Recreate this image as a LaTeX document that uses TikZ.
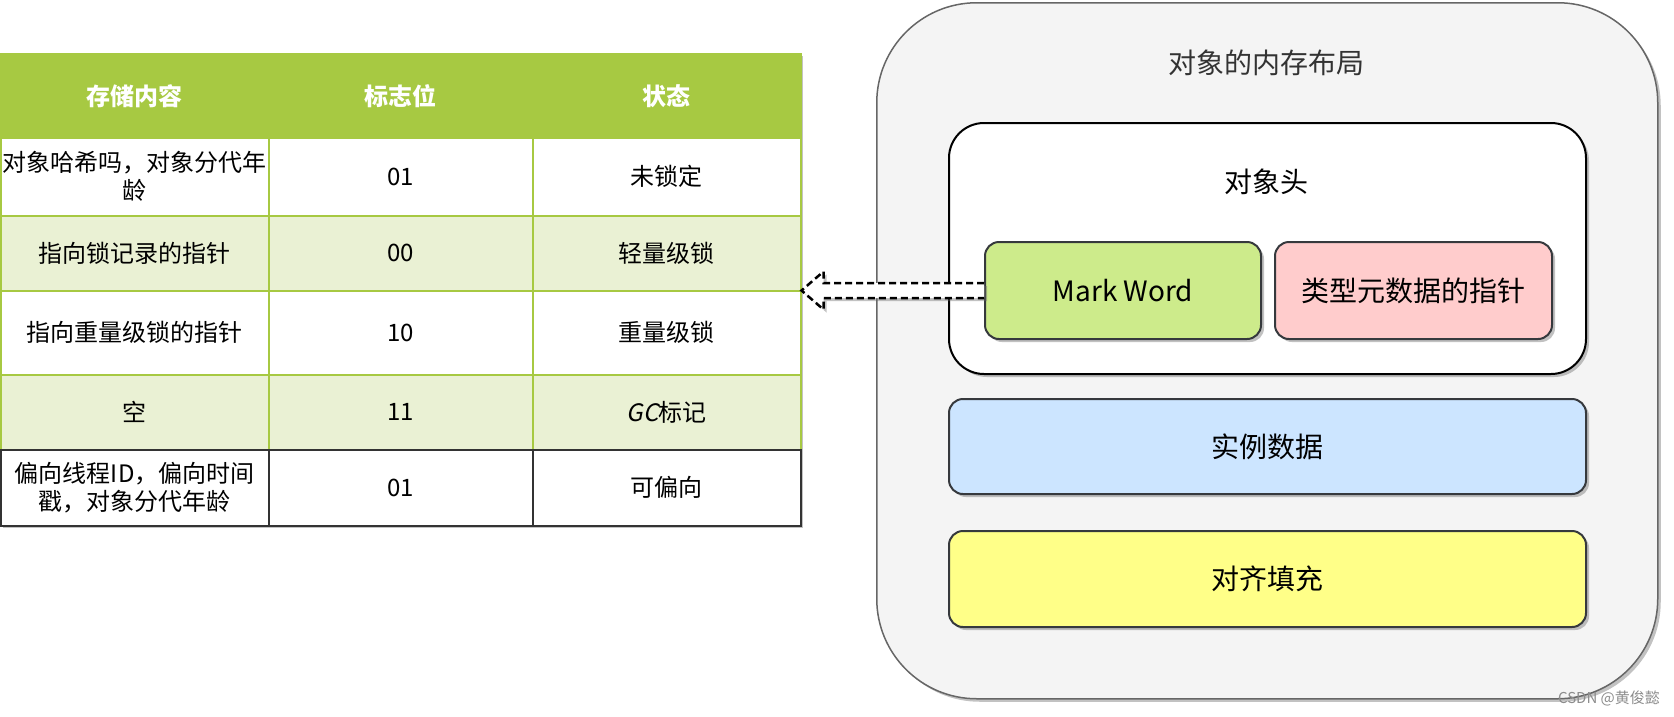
\documentclass[tikz,border=0pt]{standalone}
\usepackage{fontspec}
\setmainfont{Noto Sans CJK SC}
\newfontfamily\slfont[FakeSlant=0.2]{Noto Sans CJK SC}
\usepackage{xcolor}
\usepackage{tikz}
\usetikzlibrary{positioning,calc,shadows}

\definecolor{thead}{HTML}{A7C942}
\definecolor{tline}{HTML}{A7C942}
\definecolor{talt}{HTML}{EAF1D4}
\definecolor{tdark}{HTML}{333333}
\definecolor{outerfill}{HTML}{F4F4F4}
\definecolor{outerline}{HTML}{666666}
\definecolor{boxline}{HTML}{36393D}
\definecolor{mwfill}{HTML}{CDEB8B}
\definecolor{ptrfill}{HTML}{FFCCCC}
\definecolor{instfill}{HTML}{CCE5FF}
\definecolor{padfill}{HTML}{FFFF88}

\tikzset{
  cell/.style={draw=tline,line width=1.5pt,inner sep=0pt,anchor=north west,align=center,
    font=\fontsize{24}{28}\selectfont},
  head/.style={cell,fill=thead,text=white,font=\fontsize{24}{28}\selectfont\bfseries},
  colA/.style={minimum width=268pt},
  colB/.style={minimum width=264pt},
  colC/.style={minimum width=268pt},
  mshadow/.style={drop shadow={shadow xshift=3pt,shadow yshift=-3pt,opacity=0.4,fill=black!60}},
  part/.style={draw=boxline,line width=2pt,rounded corners=14pt,mshadow,
    font=\fontsize{28}{32}\selectfont},
}

\begin{document}
\begin{tikzpicture}[x=1pt,y=-1pt]
  \useasboundingbox (0,0) rectangle (1674,716);
  % table
  \path[fill=white,mshadow] (0,53) rectangle (800,525);
  \node[head,colA,minimum height=84pt] (h1) at (0,53)   {存储内容};
  \node[head,colB,minimum height=84pt] (h2) at (268,53) {标志位};
  \node[head,colC,minimum height=84pt] (h3) at (532,53) {状态};

  \node[cell,colA,fill=white,minimum height=78pt] (r1a) at (0,137)   {对象哈希吗，对象分代年\\龄};
  \node[cell,colB,fill=white,minimum height=78pt] (r1b) at (268,137) {01};
  \node[cell,colC,fill=white,minimum height=78pt] (r1c) at (532,137) {未锁定};

  \node[cell,colA,fill=talt,minimum height=75pt] (r2a) at (0,215)   {指向锁记录的指针};
  \node[cell,colB,fill=talt,minimum height=75pt] (r2b) at (268,215) {00};
  \node[cell,colC,fill=talt,minimum height=75pt] (r2c) at (532,215) {轻量级锁};

  \node[cell,colA,fill=white,minimum height=84pt] (r3a) at (0,290)   {指向重量级锁的指针};
  \node[cell,colB,fill=white,minimum height=84pt] (r3b) at (268,290) {10};
  \node[cell,colC,fill=white,minimum height=84pt] (r3c) at (532,290) {重量级锁};

  \node[cell,colA,fill=talt,minimum height=75pt] (r4a) at (0,374)   {空};
  \node[cell,colB,fill=talt,minimum height=75pt] (r4b) at (268,374) {11};
  \node[cell,colC,fill=talt,minimum height=75pt] (r4c) at (532,374) {{\slfont GC}标记};

  \node[cell,colA,fill=white,draw=tdark,minimum height=76pt] (r5a) at (0,449)   {偏向线程ID，偏向时间\\戳，对象分代年龄};
  \node[cell,colB,fill=white,draw=tdark,minimum height=76pt] (r5b) at (268,449) {01};
  \node[cell,colC,fill=white,draw=tdark,minimum height=76pt] (r5c) at (532,449) {可偏向};

  % object layout
  \node[draw=outerline,fill=outerfill,line width=1.5pt,rounded corners=100pt,mshadow,
        anchor=north west,minimum width=781pt,minimum height=696pt] (obj) at (876,2) {};
  \node[text=tdark,font=\fontsize{28}{32}\selectfont] (objtitle) at (1266,63) {对象的内存布局};

  \node[draw=black,fill=white,line width=2pt,rounded corners=35pt,mshadow,
        anchor=north west,minimum width=637pt,minimum height=251pt] (hdr) at (948,122) {};
  \node[font=\fontsize{28}{32}\selectfont] (hdrtitle) at (1266,182) {对象头};

  \node[part,fill=mwfill,anchor=north west,minimum width=276pt,minimum height=97pt] (mw) at (984,241) {Mark Word};
  \node[part,fill=ptrfill,minimum width=277pt,minimum height=97pt,right=12pt of mw] (ptr) {类型元数据的指针};
  \node[part,fill=instfill,anchor=north west,minimum width=637pt,minimum height=95pt] (inst) at (948,398) {实例数据};
  \node[part,fill=padfill,anchor=north west,minimum width=637pt,minimum height=96pt] (pad) at (948,530) {对齐填充};

  % hollow arrow from Mark Word to the table
  \coordinate (tip) at (r2c.east |- mw.west);
  \draw[dashed,dash pattern=on 7pt off 4pt,line width=2.5pt,fill=white,mshadow]
    ($(mw.west)+(0,-7.5)$) -- ($(tip)+(22,-7.5)$) -- ($(tip)+(22,-19)$) -- (tip)
    -- ($(tip)+(22,19)$) -- ($(tip)+(22,7.5)$) -- ($(mw.west)+(0,7.5)$);

  \node[text=black!45,font=\fontsize{15}{17}\selectfont] (mark) at (1609,698) {CSDN @黄俊懿};
\end{tikzpicture}
\end{document}
